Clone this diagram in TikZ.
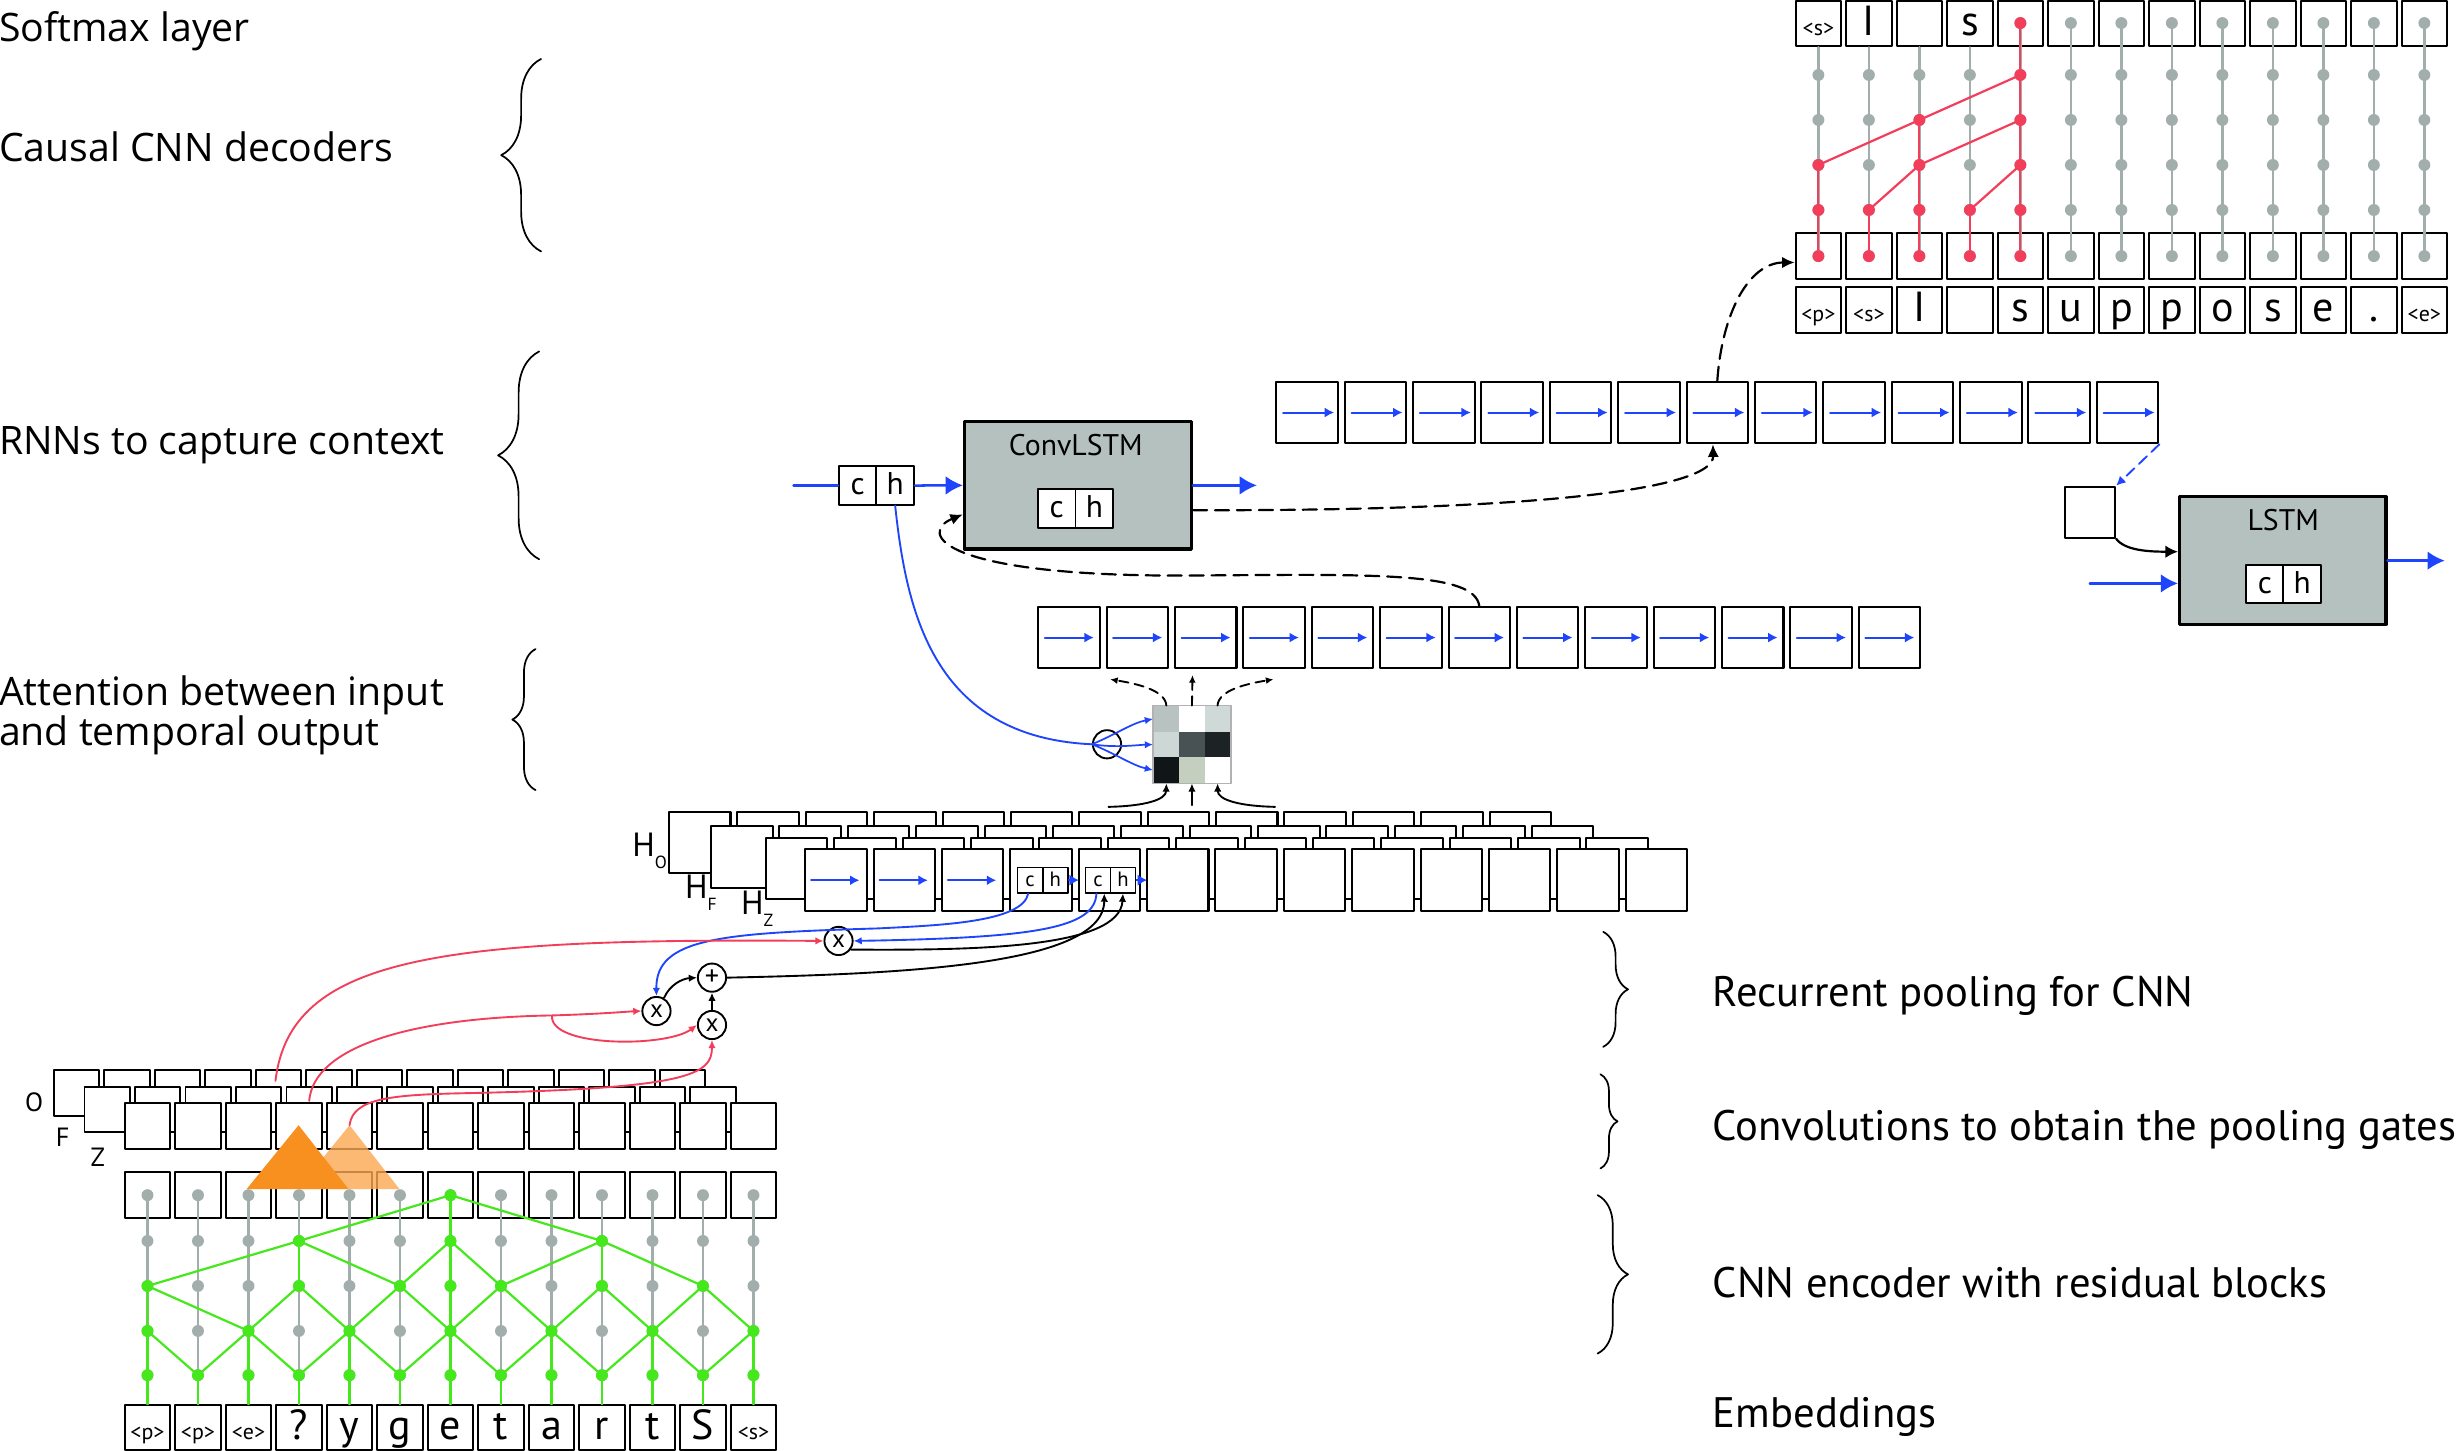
\documentclass[tikz,border=0pt]{standalone}
\usepackage{fontspec}
\setmainfont{PT Sans}
\newfontfamily\labelfont{Open Sans}
\usepackage{tikz}
\usetikzlibrary{arrows.meta, decorations.pathreplacing}

\definecolor{netblue}{HTML}{1F45FC}
\definecolor{netred}{HTML}{F23E5A}
\definecolor{netgreen}{HTML}{45E81A}
\definecolor{netgray}{HTML}{A2AEAC}
\definecolor{unitgray}{HTML}{B5C1BF}
\definecolor{kerneldark}{HTML}{F7901E}
\definecolor{kernellight}{HTML}{FBA850}

\newcommand{\tagtxt}[1]{{\fontsize{7pt}{7pt}\selectfont #1}}
\newcommand{\hsub}[1]{\raisebox{-3.8pt}{\fontsize{5.6pt}{6pt}\selectfont #1}}

\begin{document}
\begin{tikzpicture}
		[x=0.5pt, y=-0.5pt, line cap=round, line join=round,
		%Styles
		char cell/.style={draw, line width=0.6pt, fill=white, inner sep=0pt, minimum width=14.5pt, minimum height=14.5pt, text height=7.5pt, text depth=0pt, font=\fontsize{13.4pt}{14pt}\selectfont},
		rnn cell/.style={draw, line width=0.65pt, fill=white, inner sep=0pt, minimum width=19.6pt, minimum height=19.65pt},
		half cell/.style={draw, line width=0.6pt, fill=white, inner sep=0pt, minimum width=12pt, minimum height=12.2pt, text height=6pt, text depth=0pt, font=\fontsize{10pt}{10pt}\selectfont},
		tiny cell/.style={draw, line width=0.5pt, fill=white, inner sep=0pt, minimum width=8pt, minimum height=8.1pt, text height=4pt, text depth=0pt, font=\fontsize{6.6pt}{7pt}\selectfont},
		unit box/.style={draw, line width=1pt, fill=unitgray, inner sep=0pt},
		unit label/.style={inner sep=0pt, font=\fontsize{9.5pt}{10pt}\selectfont},
		op node/.style={circle, draw, line width=0.6pt, fill=white, inner sep=0pt, minimum size=9pt, font=\fontsize{8pt}{8pt}\selectfont},
		att cell/.style={inner sep=0pt, minimum size=8.15pt},
		gray dot/.style={circle, fill=netgray, inner sep=0pt, minimum size=3.8pt},
		red dot/.style={gray dot, fill=netred},
		green dot/.style={gray dot, fill=netgreen},
		gray line/.style={netgray, line width=0.75pt},
		red line/.style={netred, line width=0.7pt},
		green line/.style={netgreen, line width=0.7pt},
		flow/.style={netblue, line width=0.65pt, -{Latex[length=3pt, width=3.2pt]}},
		big flow/.style={netblue, line width=0.8pt, -{Latex[length=5.5pt, width=6pt]}},
		thin flow/.style={netblue, line width=0.55pt, -{Latex[length=2.6pt, width=2.4pt]}},
		dashed link/.style={dashed, dash pattern=on 4.5pt off 2.5pt, line width=0.7pt, -{Latex[length=4pt, width=3.6pt]}},
		small dashed/.style={dashed, dash pattern=on 3pt off 2pt, line width=0.6pt, -{Latex[length=2.4pt, width=2.2pt]}},
		black link/.style={line width=0.6pt, -{Latex[length=2.6pt, width=2.4pt]}},
		blue link/.style={netblue, line width=0.6pt, -{Latex[length=2.6pt, width=2.4pt]}},
		red link/.style={netred, line width=0.6pt, -{Latex[length=2.6pt, width=2.4pt]}},
		brace line/.style={decorate, decoration={brace, amplitude=#1}, line width=0.55pt},
		side label/.style={anchor=base west, inner sep=0pt, font=\labelfont\fontsize{12.5pt}{14pt}\selectfont},
		stage label/.style={anchor=base west, inner sep=0pt, font=\fontsize{13.6pt}{15pt}\selectfont},
		layer label/.style={anchor=base west, inner sep=0pt, font=\fontsize{10.7pt}{11pt}\selectfont},
		gate label/.style={inner sep=0pt, font=\fontsize{8.4pt}{9pt}\selectfont}
		]
		
		%The graphic
		\path[use as bounding box, fill=white] (0,0) rectangle (1568,925);
		
		%Causal CNN decoder
		\foreach \lbl [count=\i from 0] in {\tagtxt{<s>},I,{},s,{},{},{},{},{},{},{},{},{}}
			\node[char cell] (T\i) at (1159.5+32.2*\i, 15.1) {\lbl};
		\foreach \i in {0,...,12} {
			\node[char cell] (B\i) at (1159.5+32.2*\i, 163.35) {};
			\foreach \l/\y in {0/163.3, 1/133.9, 2/105.2, 3/76.5, 4/47.8, 5/14.7}
				\coordinate (d\i-\l) at (1159.5+32.2*\i, \y);
		}
		\foreach \lbl [count=\i from 0] in {\tagtxt{<p>},\tagtxt{<s>},I,{},s,u,p,p,o,s,e,.,\tagtxt{<e>}}
			\node[char cell] (C\i) at (1159.5+32.2*\i, 197.7) {\lbl};
		
		\foreach \i in {0,...,3} \draw[gray line] (T\i.south) -- (d\i-0);
		\foreach \i in {4,...,12} \draw[gray line] (d\i-5) -- (d\i-0);
		\foreach \i in {0,...,12} \foreach \l in {0,...,4} \node[gray dot] (gd\i-\l) at (d\i-\l) {};
		\foreach \i in {4,...,12} \node[gray dot] (gd\i-5) at (d\i-5) {};
		
		\draw[red line] (d0-0) -- (d0-2);
		\draw[red line] (d1-0) -- (d1-1);
		\draw[red line] (d2-0) -- (d2-3);
		\draw[red line] (d3-0) -- (d3-1);
		\draw[red line] (d4-0) -- (d4-5);
		\draw[red line] (d0-2) -- (d2-3) -- (d4-4);
		\draw[red line] (d1-1) -- (d2-2) -- (d4-3);
		\draw[red line] (d3-1) -- (d4-2);
		\foreach \p in {d0-0,d0-1,d0-2,d1-0,d1-1,d2-0,d2-1,d2-2,d2-3,d3-0,d3-1,d4-0,d4-1,d4-2,d4-3,d4-4,d4-5}
			\node[red dot] (r\p) at (\p) {};
		
		%RNN rows
		\foreach \i in {0,...,12} {
			\node[rnn cell] (R\i) at (833.45+43.6*\i, 263.05) {};
			\draw[flow] ([xshift=2.5pt]R\i.west) -- ([xshift=-1.5pt]R\i.east);
			\node[rnn cell] (A\i) at (681.65+43.6*\i, 406.55) {};
			\draw[flow] ([xshift=2.4pt]A\i.west) -- ([xshift=-2.2pt]A\i.east);
		}
		
		%ConvLSTM
		\node[unit box, minimum width=72.35pt, minimum height=40.6pt] (convlstm) at (687.35,309.5) {};
		\node[unit label] (convlabel) at (686,284) {ConvLSTM};
		\node[half cell] (cin) at (673.85,324.25) {c};
		\node[half cell] (hin) at (697.8,324.25) {h};
		\node[half cell] (cout) at (546.85,309.6) {c};
		\node[half cell] (hout) at (570.8,309.6) {h};
		\coordinate (convfeed) at (506,309.6);
		\coordinate (convout) at (801.5,309.5);
		\draw[netblue, line width=0.8pt] (convfeed) -- (cout.west);
		\draw[big flow] (hout.east) -- (convlstm.west);
		\draw[big flow] (convlstm.east) -- (convout);
		\draw[dashed link] ([yshift=-7.9pt]convlstm.east) .. controls (950,326) and (1093,315) .. ([xshift=-1.4pt]R6.south);
		\draw[dashed link] (R6.north) .. controls (1098,200) and (1115,167.5) .. ([yshift=-2pt]B0.west);
		\draw[dashed link] (A6.north) .. controls (940,365) and (880,366) .. (760,367) .. controls (600,368) and (585,340) .. ([yshift=-9.25pt]convlstm.west);
		
		%Attention
		\foreach \r/\c/\shade in {0/0/B8C2C0, 0/1/FFFFFF, 0/2/CFDAD8, 1/0/CDD7D5, 1/1/485154, 1/2/1D2325, 2/0/101517, 2/1/C4CFC0, 2/2/FFFFFF} {
			\definecolor{attshade}{HTML}{\shade}
			\node[att cell, fill=attshade] (att\r\c) at (743.75+16.3*\c, 458.45+16.3*\r) {};
		}
		\draw[line width=0.4pt, black!30] (att00.north west) rectangle (att22.south east);
		\node[op node] (score) at (705.9,474.6) {};
		\draw[netblue, line width=0.6pt] (hout.south) .. controls (578,390) and (595,470) .. (score.west);
		\draw[thin flow] (score.west) .. controls (712,468) and (722,461) .. (att00.west);
		\draw[thin flow] (score.west) .. controls (712,477) and (725,475) .. (att10.west);
		\draw[thin flow] (score.west) .. controls (712,481) and (722,488) .. (att20.west);
		\coordinate (attL) at (707.9,433.2);
		\coordinate (attM) at (760.4,430.5);
		\coordinate (attR) at (812,433.2);
		\draw[small dashed] (att00.north) .. controls (743,440) and (725,436) .. (attL);
		\draw[small dashed] (att01.north) -- (attM);
		\draw[small dashed] (att02.north) .. controls (777,440) and (795,436) .. (attR);
		\coordinate (keyL) at (706.8,514.5);
		\coordinate (keyM) at (760.05,513.4);
		\coordinate (keyR) at (813.1,514.5);
		\draw[black link] (keyL) .. controls (730,514) and (743.5,510) .. (att20.south);
		\draw[black link] (keyM) -- (att21.south);
		\draw[black link] (keyR) .. controls (790,514) and (776.6,510) .. (att22.south);
		
		%Recurrent pooling
		\foreach \i in {0,...,12} \node[rnn cell] (HO\i) at (446.2+43.6*\i, 537.2) {};
		\foreach \i in {0,...,12} \node[rnn cell] (HF\i) at (473+43.6*\i, 546.4) {};
		\foreach \i in {0,...,12} \node[rnn cell] (HZ\i) at (508+43.6*\i, 553.8) {};
		\foreach \i in {0,...,12} \node[rnn cell] (H\i) at (533+43.6*\i, 561.3) {};
		\foreach \i in {0,1,2} \draw[flow] ([xshift=2.25pt]H\i.west) -- ([xshift=-2.6pt]H\i.east);
		\node[layer label] (labHO) at (402.8,546.4) {H\hsub{O}};
		\node[layer label] (labHF) at (436.4,573) {H\hsub{F}};
		\node[layer label] (labHZ) at (472.1,582.9) {H\hsub{Z}};
		\node[tiny cell] (qc3) at (656.85,561.2) {c};
		\node[tiny cell] (qh3) at (672.95,561.2) {h};
		\node[tiny cell] (qc4) at (700.15,561.2) {c};
		\node[tiny cell] (qh4) at (716.05,561.2) {h};
		\draw[netblue, line width=0.5pt, -{Latex[length=3pt, width=3.6pt]}] (qh3.east) -- ([xshift=3.2pt]qh3.east);
		\draw[netblue, line width=0.5pt, -{Latex[length=3pt, width=3.6pt]}] (qh4.east) -- ([xshift=3.4pt]qh4.east);
		
		\node[op node] (mulO) at (534.7,600) {x};
		\node[op node, font=\fontsize{9pt}{9pt}\selectfont] (addC) at (454,623.4) {+};
		\node[op node] (mulF) at (418.6,644.7) {x};
		\node[op node] (mulZ) at (454,653.6) {x};
		\draw[blue link] ([xshift=-0.6pt]qc3.south) .. controls (652,588) and (600,590) .. (560,592) .. controls (460,595) and (418,598) .. (mulF.north);
		\draw[blue link] ([xshift=-0.5pt]qc4.south) .. controls (698,592) and (660,598) .. (mulO.east);
		\draw[black link] (mulO.-35) .. controls (620,606) and (714,605) .. (qh4.south);
		\draw[black link] (addC.east) .. controls (580,621) and (704,615) .. ([xshift=2pt]qc4.south);
		\draw[black link] (mulF.60) .. controls (427,628) and (435,624) .. (addC.west);
		\draw[black link] (mulZ.north) -- (addC.south);
		
		%Pooling gates
		\foreach \i in {0,...,12} \node[char cell] (GO\i) at (48.85+32.2*\i, 696.9) {};
		\foreach \i in {0,...,12} \node[char cell] (GF\i) at (68.35+32.2*\i, 707.5) {};
		\foreach \i in {0,...,12} \node[char cell] (GZ\i) at (94.05+32.2*\i, 718.1) {};
		\node[gate label] (labO) at (21.7,703) {O};
		\node[gate label] (labF) at (40,725) {F};
		\node[gate label] (labZ) at (62.3,738) {Z};
		
		%CNN encoder
		\foreach \i in {0,...,12} {
			\node[char cell] (E\i) at (94.05+32.2*\i, 762) {};
			\foreach \l/\y in {0/876.9, 1/848.7, 2/820, 3/791.3, 4/762.1}
				\coordinate (e\i-\l) at (94.05+32.2*\i, \y);
		}
		\foreach \lbl [count=\i from 0] in {\tagtxt{<p>},\tagtxt{<p>},\tagtxt{<e>},?,y,g,e,t,a,r,t,S,\tagtxt{<s>}}
			\node[char cell] (X\i) at (94.05+32.2*\i, 910.35) {\lbl};
		\foreach \i in {0,...,12} \draw[gray line] (e\i-4) -- (X\i.north);
		\foreach \i in {0,...,12} \foreach \l in {0,...,4} \node[gray dot] (ge\i-\l) at (e\i-\l) {};
		
		\foreach \i in {0,...,12} \draw[green line] (X\i.north) -- (e\i-0);
		\foreach \i in {0,2,...,12} \draw[green line] (e\i-0) -- (e\i-1);
		\foreach \i/\a/\b in {1/0/2,3/2/4,5/4/6,7/6/8,9/8/10,11/10/12} \draw[green line] (e\a-1) -- (e\i-0) -- (e\b-1);
		\draw[green line] (e0-1) -- (e0-2) -- (e2-1);
		\foreach \i/\a/\b in {3/2/4,5/4/6,7/6/8,9/8/10,11/10/12} \draw[green line] (e\a-1) -- (e\i-2) -- (e\b-1);
		\draw[green line] (e6-1) -- (e6-2);
		\foreach \i/\a/\b in {3/0/5,6/5/7,9/7/11} \draw[green line] (e\a-2) -- (e\i-3) -- (e\b-2);
		\foreach \i in {3,6,9} \draw[green line] (e\i-2) -- (e\i-3);
		\draw[green line] (e3-3) -- (e6-4) -- (e9-3);
		\draw[green line] (e6-3) -- (e6-4);
		\foreach \p in {e0-0,e1-0,e2-0,e3-0,e4-0,e5-0,e6-0,e7-0,e8-0,e9-0,e10-0,e11-0,e12-0,e0-1,e2-1,e4-1,e6-1,e8-1,e10-1,e12-1,e0-2,e3-2,e5-2,e6-2,e7-2,e9-2,e11-2,e3-3,e6-3,e9-3,e6-4}
			\node[green dot] (g\p) at (\p) {};
		
		%Convolution filters
		\coordinate (zapex) at (222.9,717.5);
		\fill[kernellight, fill opacity=0.8] (zapex) -- (189.7,758.3) -- (254.8,758.3) -- cycle;
		\fill[kerneldark] (190.4,717.5) -- (157.2,758.3) -- (222.3,758.3) -- cycle;
		
		\coordinate (fsplit) at (352,647.5);
		\draw[red link] ([xshift=-1pt, yshift=-3.7pt]GO4.north) .. controls (185,610) and (280,598) .. (mulO.west);
		\draw[red link] ([yshift=-4.8pt]GF4.north) .. controls (200,668) and (260,649) .. (fsplit) .. controls (385,646.5) and (400,645) .. (mulF.west);
		\draw[red link] (fsplit) .. controls (350,668) and (425,668) .. (mulZ.west);
		\draw[red link] (zapex) .. controls (225,700) and (250,698) .. (300,697) .. controls (440,694) and (454,685) .. (mulZ.south);
		
		%LSTM
		\node[draw, line width=0.7pt, fill=white, inner sep=0pt, minimum width=15.85pt, minimum height=16.25pt] (ctx) at (1332.85,326.65) {};
		\node[unit box, minimum width=65.8pt, minimum height=40.7pt] (lstm) at (1455.6,357.5) {};
		\node[unit label] (lstmlabel) at (1455.9,331.6) {LSTM};
		\node[half cell] (lc) at (1444.3,372.35) {c};
		\node[half cell] (lh) at (1467.95,372.35) {h};
		\draw[netblue, dashed, dash pattern=on 3.5pt off 2pt, line width=0.6pt, -{Latex[length=3pt, width=3pt]}] (R12.south east) -- (ctx.north east);
		\draw[line width=0.7pt, -{Latex[length=4pt, width=4pt]}] (ctx.south east) .. controls (1355,351) and (1370,351.8) .. ([yshift=2.85pt]lstm.west);
		\coordinate (lstmfeed) at (1332.6,372);
		\coordinate (lstmout) at (1558.9,357.5);
		\draw[big flow] (lstmfeed) -- ([yshift=-7.25pt]lstm.west);
		\draw[big flow] (lstm.east) -- (lstmout);
		
		%Braces and labels
		\draw[brace line=12.7pt, decoration={mirror}] (345,37.6) -- (345,160.3);
		\draw[brace line=13.1pt, decoration={mirror}] (343.8,224.1) -- (343.8,356.6);
		\draw[brace line=7.4pt, decoration={mirror}] (341.5,413.9) -- (341.5,503.8);
		\draw[brace line=7.9pt] (1022.3,594.2) -- (1022.3,667.5);
		\draw[brace line=5.45pt] (1020.5,685) -- (1020.5,745.1);
		\draw[brace line=9.7pt] (1018.7,762.1) -- (1018.7,863.1);
		
		\node[side label] (softmax) at (-1,26.2) {Softmax layer};
		\node[side label] (causal) at (-1,103) {Causal CNN decoders};
		\node[side label] (rnns) at (-1,290) {RNNs to capture context};
		\node[side label] (attn1) at (-1,450) {Attention between input};
		\node[side label] (attn2) at (-1,475.5) {and temporal output};
		\node[stage label] (pooling) at (1091.8,641.5) {Recurrent pooling for CNN};
		\node[stage label] (gates) at (1091.8,727) {Convolutions to obtain the pooling gates};
		\node[stage label] (encoder) at (1091.8,827.5) {CNN encoder with residual blocks};
		\node[stage label] (embed) at (1091.8,910) {Embeddings};
	\end{tikzpicture}
\end{document}
